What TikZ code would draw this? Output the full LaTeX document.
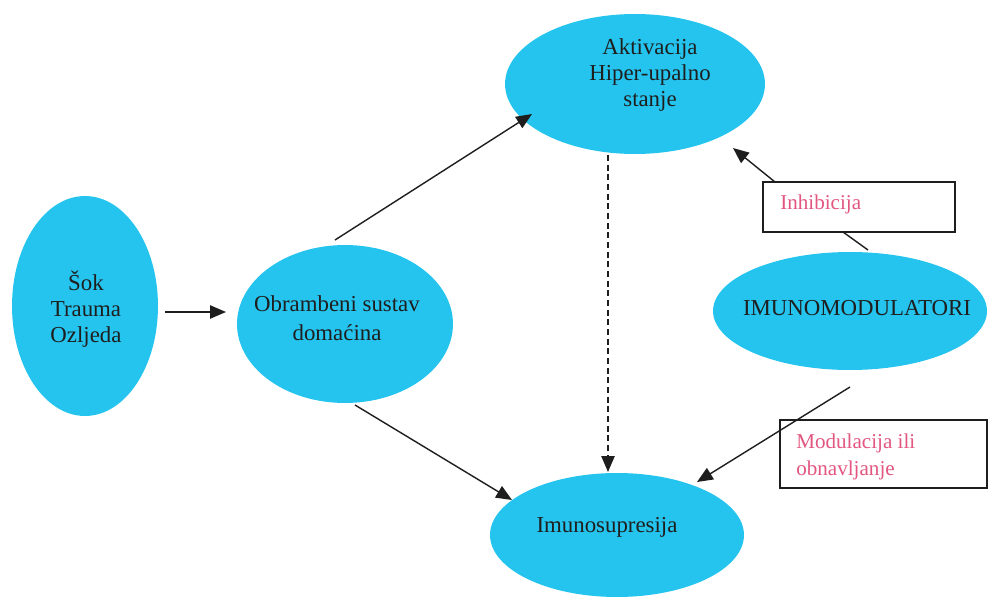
\documentclass[tikz,border=0pt]{standalone}
\usepackage{fontspec}
\setmainfont{Liberation Serif}
\usetikzlibrary{shapes.geometric,arrows.meta,calc}
\definecolor{cyanfill}{RGB}{36,196,238}
\definecolor{pinktxt}{RGB}{226,86,128}
\definecolor{ink}{RGB}{30,30,30}
\begin{document}
\begin{tikzpicture}[x=0.02cm,y=-0.02cm,
  ell/.style={ellipse,fill=cyanfill,draw=none,inner sep=0pt},
  txt/.style={font=\fontsize{13}{15}\selectfont,align=center,text=ink},
  lbl/.style={font=\fontsize{12}{15}\selectfont,align=left,text=pinktxt,anchor=west,inner sep=0pt},
  boxnode/.style={rectangle,draw=ink,line width=0.7pt,fill=white,inner sep=0pt},
  arr/.style={line width=0.8pt,draw=ink,-{Triangle[length=9pt,width=7.5pt]}},
  con/.style={line width=0.8pt,draw=ink}]
\useasboundingbox (0,0) rectangle (991,598);
% ellipses
\node[ell,minimum width=2.92cm,minimum height=4.4cm] (sok) at (85,306) {};
\node[ell,minimum width=4.32cm,minimum height=3.16cm] (obr) at (345,324) {};
\node[ell,minimum width=5.2cm,minimum height=2.8cm] (akt) at (635,84) {};
\node[ell,minimum width=5.08cm,minimum height=2.48cm] (imu) at (617,535) {};
\node[ell,minimum width=5.48cm,minimum height=2.36cm] (imn) at (850,311) {};
% texts in ellipses
\node[txt] (sokt) at (86,309) {Šok\\Trauma\\Ozljeda};
\node[txt,font=\fontsize{13}{16.5}\selectfont] (obrt) at (337,318) {Obrambeni sustav\\domaćina};
\node[txt] (aktt) at (650,75) {Aktivacija\\Hiper-upalno\\stanje};
\node[txt] (imut) at (607,527) {Imunosupresija};
\node[txt] (imnt) at (857,308) {IMUNOMODULATORI};
% boxes
\node[boxnode,minimum width=3.84cm,minimum height=1.0cm] (inh) at (859,207) {};
\node[lbl] (inht) at (780,204) {Inhibicija};
\node[boxnode,minimum width=4.14cm,minimum height=1.36cm] (mod) at (883.5,454) {};
\node[lbl] (modt) at (796,457) {Modulacija ili\\obnavljanje};
% connectors
\draw[arr] ($(sok.center)+(80,6)$) -- ($(obr.center)+(-119,-12)$);
\draw[arr] ($(obr.center)+(-10,-84)$) -- ($(akt.center)+(-103,30)$);
\draw[arr] ($(obr.center)+(10,81)$) -- ($(imu.center)+(-105,-35)$);
\draw[arr,dash pattern=on 3.5pt off 2pt] ($(akt.center)+(-27,71)$) -- ($(imu.center)+(-9,-63)$);
\draw[arr] ($(inh.center)+(-84,-25)$) -- ($(akt.center)+(98,64)$);
\draw[con] ($(imn.center)+(18,-61)$) -- ($(inh.center)+(-16,25)$);
\draw[arr] ($(imn.center)+(0,76)$) -- ($(imu.center)+(80,-53)$);
\end{tikzpicture}
\end{document}
